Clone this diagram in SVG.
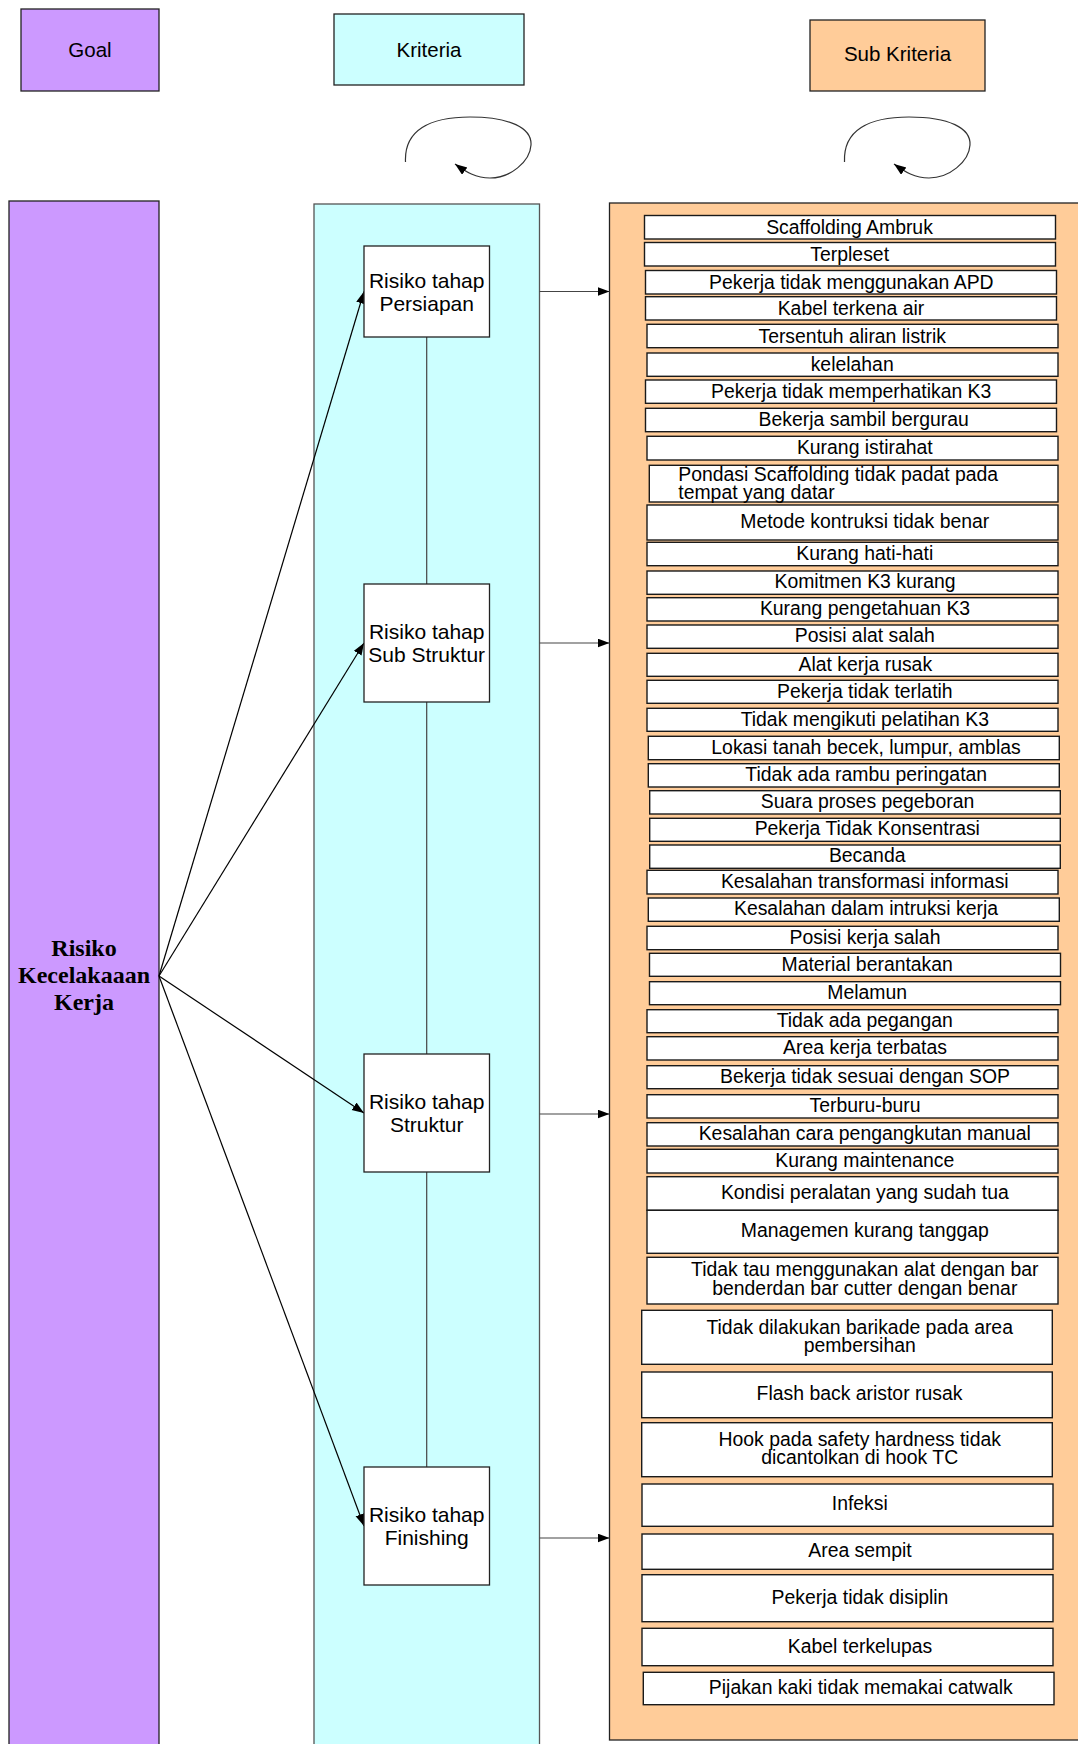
<svg xmlns="http://www.w3.org/2000/svg" width="1078" height="1744" viewBox="0 0 1078 1744">
<style>
text{font-family:"Liberation Sans",Arial,sans-serif;fill:#000}
.hd{font-size:20.5px;text-anchor:middle}
.nd{font-size:21px;text-anchor:middle}
.sb{font-size:19.4px;text-anchor:middle}
.sl{font-size:19.4px;text-anchor:start}
.goal{font-family:"Liberation Serif","Times New Roman",serif;font-weight:bold;font-size:24px;text-anchor:middle}
.box{fill:#fff;stroke:#1a1a1a;stroke-width:1.4}
.nbox{fill:#fff;stroke:#222;stroke-width:1.3}
.con{fill:none;stroke:#000;stroke-width:1.2}
.hcon{fill:none;stroke:#444;stroke-width:1.2}
.loop{fill:none;stroke:#333;stroke-width:1.2}
</style>
<defs>
<marker id="ah" markerUnits="userSpaceOnUse" markerWidth="13" markerHeight="10" refX="12" refY="4.5" orient="auto">
<path d="M0,0 L12,4.5 L0,9 z" fill="#000"/>
</marker>
</defs>

<g id="legend-goal"><rect x="21" y="9" width="138" height="82" fill="#CC99FF" stroke="#222" stroke-width="1.3"/><text class="hd" x="90" y="57">Goal</text></g>
<g id="legend-kriteria"><rect x="334" y="14" width="190" height="71" fill="#CCFFFF" stroke="#222" stroke-width="1.3"/><text class="hd" x="429" y="57">Kriteria</text></g>
<g id="legend-subkriteria"><rect x="810" y="20" width="175" height="71" fill="#FFCC99" stroke="#222" stroke-width="1.3"/><text class="hd" x="897.5" y="61">Sub Kriteria</text></g>

<g id="goal-column"><rect x="9" y="201" width="150" height="1560" fill="#CC99FF" stroke="#222" stroke-width="1.3"/>
<text class="goal" x="84" y="956">Risiko</text><text class="goal" x="84" y="983">Kecelakaaan</text><text class="goal" x="84" y="1010">Kerja</text></g>
<g id="kriteria-column"><rect x="314" y="204" width="225.5" height="1560" fill="#CCFFFF" stroke="#555" stroke-width="1.3"/></g>
<g id="subkriteria-column"><rect x="609.5" y="203" width="480" height="1537" fill="#FFCC99" stroke="#222" stroke-width="1.3"/></g>

<g id="connectors">
<path class="loop" d="M405.5,162 C404,130 430,117 470,117 C510,117 532,128 531,145 C530,162 510,178 490,178 C476,178 466,172 455,164" marker-end="url(#ah)"/>
<path class="loop" transform="translate(439,0)" d="M405.5,162 C404,130 430,117 470,117 C510,117 532,128 531,145 C530,162 510,178 490,178 C476,178 466,172 455,164" marker-end="url(#ah)"/>
<line class="hcon" x1="426.7" y1="337" x2="426.7" y2="1467"/>
<line class="con" x1="159" y1="976" x2="364" y2="291.5" marker-end="url(#ah)"/>
<line class="con" x1="159" y1="976" x2="364" y2="643" marker-end="url(#ah)"/>
<line class="con" x1="159" y1="976" x2="364" y2="1113" marker-end="url(#ah)"/>
<line class="con" x1="159" y1="976" x2="364" y2="1526" marker-end="url(#ah)"/>
<line class="hcon" x1="539.5" y1="291.5" x2="609.5" y2="291.5" marker-end="url(#ah)"/>
<line class="hcon" x1="539.5" y1="643" x2="609.5" y2="643" marker-end="url(#ah)"/>
<line class="hcon" x1="539.5" y1="1114" x2="609.5" y2="1114" marker-end="url(#ah)"/>
<line class="hcon" x1="539.5" y1="1538" x2="609.5" y2="1538" marker-end="url(#ah)"/>
</g>

<g id="k-persiapan"><rect class="nbox" x="364" y="246" width="125.5" height="91"/><text class="nd" x="426.7" y="287.5">Risiko tahap</text><text class="nd" x="426.7" y="310.5">Persiapan</text></g>
<g id="k-substruktur"><rect class="nbox" x="364" y="584" width="125.5" height="118"/><text class="nd" x="426.7" y="638.5">Risiko tahap</text><text class="nd" x="426.7" y="661.5">Sub Struktur</text></g>
<g id="k-struktur"><rect class="nbox" x="364" y="1054" width="125.5" height="118"/><text class="nd" x="426.7" y="1109">Risiko tahap</text><text class="nd" x="426.7" y="1132">Struktur</text></g>
<g id="k-finishing"><rect class="nbox" x="364" y="1467" width="125.5" height="118"/><text class="nd" x="426.7" y="1521.5">Risiko tahap</text><text class="nd" x="426.7" y="1545">Finishing</text></g>

<g id="s01"><rect class="box" x="644.5" y="215.5" width="411" height="23.5"/><text class="sb" x="849.5" y="234">Scaffolding Ambruk</text></g>
<g id="s02"><rect class="box" x="644.5" y="242.5" width="411" height="23.5"/><text class="sb" x="849.7" y="260.5">Terpleset</text></g>
<g id="s03"><rect class="box" x="645.5" y="270.5" width="411" height="23.5"/><text class="sb" x="851.3" y="288.7">Pekerja tidak menggunakan APD</text></g>
<g id="s04"><rect class="box" x="645.5" y="296.7" width="411" height="23.3"/><text class="sb" x="851" y="314.7">Kabel terkena air</text></g>
<g id="s05"><rect class="box" x="647" y="324.3" width="411" height="23.4"/><text class="sb" x="852.2" y="342.7">Tersentuh aliran listrik</text></g>
<g id="s06"><rect class="box" x="647" y="353" width="411" height="23.3"/><text class="sb" x="852.2" y="371">kelelahan</text></g>
<g id="s07"><rect class="box" x="645.5" y="380" width="411" height="23.3"/><text class="sb" x="851.2" y="398">Pekerja tidak memperhatikan K3</text></g>
<g id="s08"><rect class="box" x="645.5" y="408.3" width="411" height="23.4"/><text class="sb" x="863.7" y="426">Bekerja sambil bergurau</text></g>
<g id="s09"><rect class="box" x="647" y="436.3" width="411" height="23.7"/><text class="sb" x="864.8" y="454">Kurang istirahat</text></g>
<g id="s10"><rect class="box" x="649.3" y="465.3" width="408.7" height="36.7"/><text class="sl" x="678.3" y="481">Pondasi Scaffolding tidak padat pada</text><text class="sl" x="678.3" y="498.5">tempat yang datar</text></g>
<g id="s11"><rect class="box" x="647" y="505" width="411" height="35"/><text class="sb" x="864.8" y="527.7">Metode kontruksi tidak benar</text></g>
<g id="s12"><rect class="box" x="647" y="542.3" width="411" height="23.4"/><text class="sb" x="864.8" y="560.3">Kurang hati-hati</text></g>
<g id="s13"><rect class="box" x="647" y="571" width="411" height="23.3"/><text class="sb" x="865" y="588">Komitmen K3 kurang</text></g>
<g id="s14"><rect class="box" x="647" y="597.7" width="411" height="23.3"/><text class="sb" x="865" y="615.3">Kurang pengetahuan K3</text></g>
<g id="s15"><rect class="box" x="647" y="625" width="411" height="23.3"/><text class="sb" x="864.8" y="642">Posisi alat salah</text></g>
<g id="s16"><rect class="box" x="647" y="653.3" width="411" height="23"/><text class="sb" x="865.3" y="671">Alat kerja rusak</text></g>
<g id="s17"><rect class="box" x="647" y="680.3" width="411" height="23"/><text class="sb" x="864.8" y="697.7">Pekerja tidak terlatih</text></g>
<g id="s18"><rect class="box" x="647" y="708.3" width="411" height="23"/><text class="sb" x="864.8" y="726">Tidak mengikuti pelatihan K3</text></g>
<g id="s19"><rect class="box" x="648.3" y="736.3" width="411" height="23.4"/><text class="sb" x="866" y="754">Lokasi tanah becek, lumpur, amblas</text></g>
<g id="s20"><rect class="box" x="648.3" y="763.7" width="411" height="23.3"/><text class="sb" x="866.2" y="781">Tidak ada rambu peringatan</text></g>
<g id="s21"><rect class="box" x="649.7" y="790.7" width="410.6" height="23.3"/><text class="sb" x="867.5" y="808">Suara proses pegeboran</text></g>
<g id="s22"><rect class="box" x="649.7" y="818.3" width="410.6" height="23"/><text class="sb" x="867.3" y="834.7">Pekerja Tidak Konsentrasi</text></g>
<g id="s23"><rect class="box" x="649.7" y="845" width="410.6" height="23.3"/><text class="sb" x="867.2" y="862">Becanda</text></g>
<g id="s24"><rect class="box" x="647" y="870.3" width="411" height="23.7"/><text class="sb" x="864.8" y="888">Kesalahan transformasi informasi</text></g>
<g id="s25"><rect class="box" x="648.3" y="898" width="411" height="23.3"/><text class="sb" x="866" y="915.3">Kesalahan dalam intruksi kerja</text></g>
<g id="s26"><rect class="box" x="647" y="926.3" width="411" height="23.4"/><text class="sb" x="865" y="943.7">Posisi kerja salah</text></g>
<g id="s27"><rect class="box" x="649.5" y="953.3" width="411" height="23"/><text class="sb" x="867.2" y="971">Material berantakan</text></g>
<g id="s28"><rect class="box" x="649.5" y="981.7" width="411" height="23"/><text class="sb" x="867.2" y="999.3">Melamun</text></g>
<g id="s29"><rect class="box" x="647" y="1009.7" width="411" height="23"/><text class="sb" x="864.7" y="1027">Tidak ada pegangan</text></g>
<g id="s30"><rect class="box" x="647" y="1036.7" width="411" height="23.3"/><text class="sb" x="865" y="1054.3">Area kerja terbatas</text></g>
<g id="s31"><rect class="box" x="647" y="1065.7" width="411" height="23"/><text class="sb" x="865" y="1083">Bekerja tidak sesuai dengan SOP</text></g>
<g id="s32"><rect class="box" x="647" y="1094.7" width="411" height="23.3"/><text class="sb" x="865" y="1112">Terburu-buru</text></g>
<g id="s33"><rect class="box" x="647" y="1122.7" width="411" height="23.3"/><text class="sb" x="864.7" y="1140.3">Kesalahan cara pengangkutan manual</text></g>
<g id="s34"><rect class="box" x="647" y="1149.3" width="411" height="23.7"/><text class="sb" x="864.8" y="1167.3">Kurang maintenance</text></g>
<g id="s35"><rect class="box" x="647" y="1176.7" width="411" height="33.6"/><text class="sb" x="864.8" y="1198.7">Kondisi peralatan yang sudah tua</text></g>
<g id="s36"><rect class="box" x="647" y="1210.3" width="411" height="43"/><text class="sb" x="864.8" y="1237">Managemen kurang tanggap</text></g>
<g id="s37"><rect class="box" x="647" y="1257.3" width="411" height="46.7"/><text class="sb" x="864.8" y="1276.3">Tidak tau menggunakan alat dengan bar</text><text class="sb" x="864.8" y="1294.7">benderdan bar cutter dengan benar</text></g>
<g id="s38"><rect class="box" x="641.7" y="1310.3" width="410.6" height="54"/><text class="sb" x="859.7" y="1333.7">Tidak dilakukan barikade pada area</text><text class="sb" x="859.7" y="1352">pembersihan</text></g>
<g id="s39"><rect class="box" x="641.7" y="1372" width="410.6" height="45.7"/><text class="sb" x="859.5" y="1400.3">Flash back aristor rusak</text></g>
<g id="s40"><rect class="box" x="641.7" y="1422.7" width="410.6" height="54"/><text class="sb" x="859.7" y="1446">Hook pada safety hardness tidak</text><text class="sb" x="859.7" y="1464.3">dicantolkan di hook TC</text></g>
<g id="s41"><rect class="box" x="642" y="1484" width="411" height="42.3"/><text class="sb" x="859.8" y="1510.3">Infeksi</text></g>
<g id="s42"><rect class="box" x="642" y="1534" width="411" height="35.3"/><text class="sb" x="860" y="1557">Area sempit</text></g>
<g id="s43"><rect class="box" x="642" y="1574.7" width="411" height="47"/><text class="sb" x="860" y="1603.7">Pekerja tidak disiplin</text></g>
<g id="s44"><rect class="box" x="642" y="1628.3" width="411" height="37.4"/><text class="sb" x="860" y="1653">Kabel terkelupas</text></g>
<g id="s45"><rect class="box" x="643.3" y="1672.3" width="410.7" height="32.4"/><text class="sb" x="860.8" y="1693.7">Pijakan kaki tidak memakai catwalk</text></g>
</svg>
